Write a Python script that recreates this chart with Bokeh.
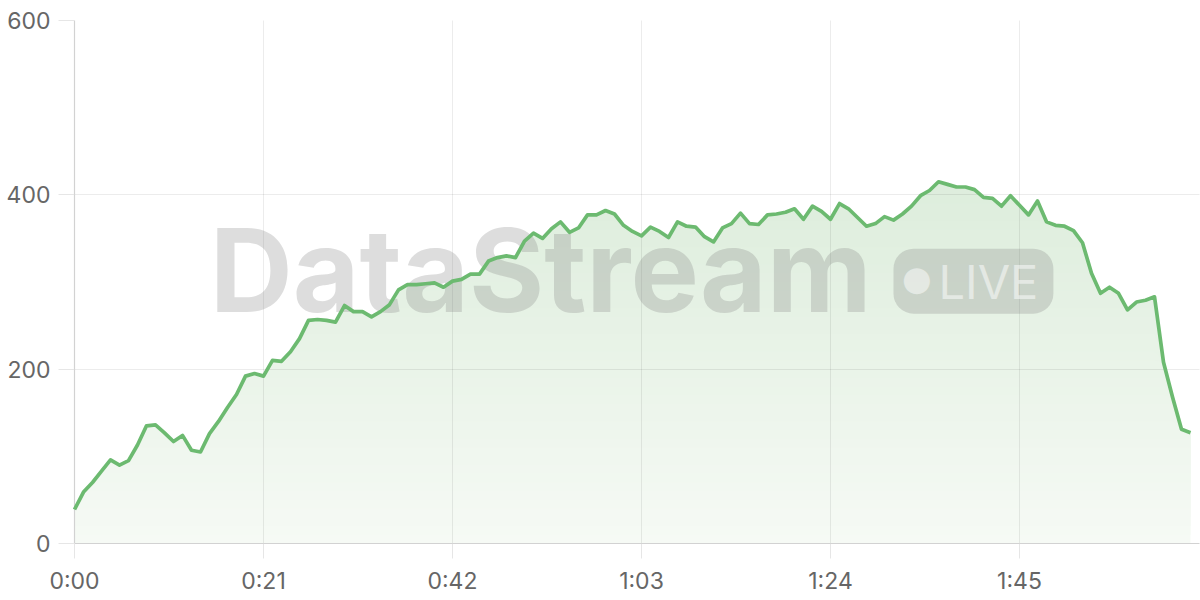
import numpy as np
from bokeh.plotting import figure
from bokeh.models import Range1d, FixedTicker, Label
from bokeh.embed import file_html
from bokeh.resources import INLINE

# ---- data -------------------------------------------------------------
seconds = list(range(125))
viewers = [
    39, 59, 70, 83, 96, 90, 95, 113, 135, 136,
    127, 117, 124, 107, 105, 126, 140, 156, 171, 192,
    195, 192, 210, 209, 220, 235, 256, 257, 256, 254,
    273, 266, 266, 260, 266, 274, 291, 297, 297, 298,
    299, 294, 301, 303, 309, 309, 324, 328, 330, 328,
    347, 356, 350, 361, 369, 357, 362, 377, 377, 382,
    378, 365, 358, 353, 363, 358, 351, 369, 364, 363,
    352, 346, 362, 367, 379, 367, 366, 377, 378, 380,
    384, 372, 387, 381, 372, 390, 384, 374, 364, 367,
    375, 371, 378, 387, 399, 405, 415, 412, 409, 409,
    406, 397, 396, 387, 399, 388, 377, 393, 369, 365,
    364, 359, 345, 310, 287, 294, 287, 268, 277, 279,
    283, 208, 168, 131, 127,
]
tick_seconds = [0, 21, 42, 63, 84, 105]
tick_labels = ["0:00", "0:21", "0:42", "1:03", "1:24", "1:45"]
y_ticks = [0, 200, 400, 600]

FONT = "Inter"
LINE_COLOR = "#6cba70"

p = figure(
    width=1200, height=600,
    output_backend="svg", toolbar_location=None,
    x_range=Range1d(0, 125), y_range=Range1d(0, 600),
    min_border_left=74, min_border_right=1,
    min_border_top=20, min_border_bottom=57,
)
p.outline_line_color = None
p.background_fill_color = "white"
p.border_fill_color = "white"

# ---- gradient area (opaque painter's layers, darker toward the top) ----
t = np.array(seconds, dtype=float)
v = np.array(viewers, dtype=float)
step = 10
levels = np.arange(0, 430, step)
bottom_rgb = np.array([246, 250, 245], dtype=float)
top_rgb = np.array([221, 237, 220], dtype=float)   # colour at value 415


def grad_color(h):
    f = min(max(h / 415.0, 0.0), 1.0)
    c = bottom_rgb + (top_rgb - bottom_rgb) * f
    return "#%02x%02x%02x" % tuple(int(round(x)) for x in c)


for L in levels:
    p.varea(x=t, y1=np.minimum(v, L), y2=v,
            fill_color=grad_color(L + step / 2), fill_alpha=1.0)

# ---- line --------------------------------------------------------------
r = p.line(t, v, line_color=LINE_COLOR, line_width=3.7, line_join="round")
r.level = "overlay"

# ---- axes / grid -------------------------------------------------------
p.xaxis.ticker = FixedTicker(ticks=tick_seconds)
p.xaxis.major_label_overrides = {k: s for k, s in zip(tick_seconds, tick_labels)}
p.yaxis.ticker = FixedTicker(ticks=y_ticks)

for ax in (p.xaxis[0], p.yaxis[0]):
    ax.axis_line_color = "#d2d2d2"
    ax.axis_line_width = 1.2
    ax.major_tick_line_color = "#e6e6e6"
    ax.major_tick_in = 0
    ax.minor_tick_line_color = None
    ax.major_label_text_font = FONT
    ax.major_label_text_font_size = "23px"
    ax.major_label_text_color = "#666666"
p.xaxis.major_tick_out = 15
p.yaxis.major_tick_out = 16
p.xaxis.major_label_standoff = 8
p.yaxis.major_label_standoff = 8

p.grid.grid_line_color = "#000000"
p.grid.grid_line_alpha = 0.075
p.grid.grid_line_width = 1
p.grid.level = "annotation"

# ---- watermark ---------------------------------------------------------
WM_COLOR = "#808080"
WM_ALPHA = 0.27
p.add_layout(Label(
    x=51.8, y=313, text="DataStream",
    text_align="center", text_baseline="middle",
    text_font=FONT, text_font_style="bold", text_font_size="115px",
    text_color=WM_COLOR, text_alpha=WM_ALPHA,
))
p.add_layout(Label(
    x=91.0, y=301, text="LIVE",
    text_align="left", text_baseline="middle",
    text_font=FONT, text_font_size="47px",
    text_color="white", text_alpha=0.5,
    background_fill_color=WM_COLOR, background_fill_alpha=WM_ALPHA,
    padding=(45, 15, 4, 4), border_radius=20,
))
p.add_layout(Label(
    x=93.6, y=305, text="\u25cf",
    text_align="center", text_baseline="middle",
    text_font="DejaVu Sans", text_font_size="34px",
    text_color="white", text_alpha=0.5,
))

open("out.html", "w").write(file_html(p, INLINE))
